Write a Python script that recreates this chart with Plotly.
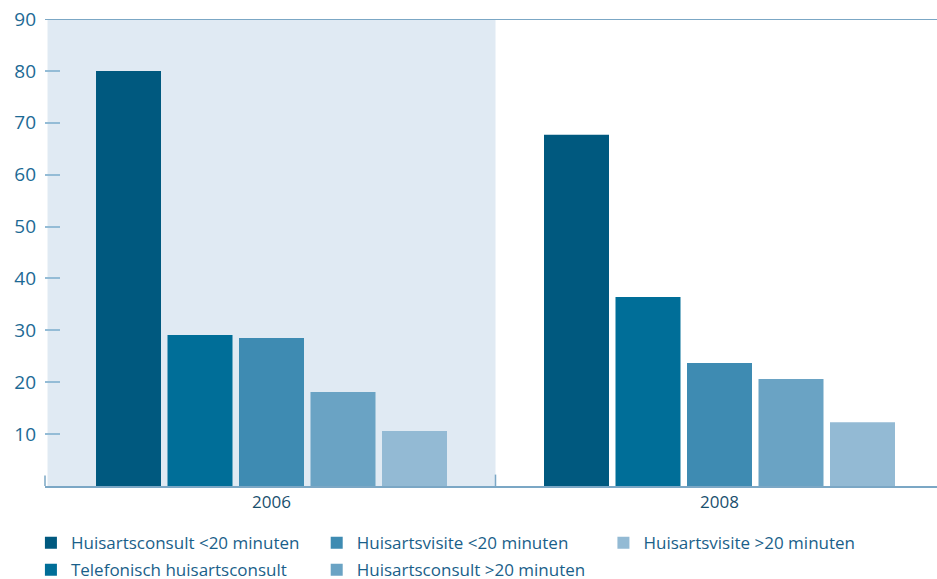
import plotly.graph_objects as go

categories = ["2006", "2008"]
series_names = [
    "Huisartsconsult <20 minuten",
    "Telefonisch huisartsconsult",
    "Huisartsvisite <20 minuten",
    "Huisartsconsult >20 minuten",
    "Huisartsvisite >20 minuten",
]
series_values = [
    [80.0, 67.7],
    [29.1, 36.4],
    [28.5, 23.7],
    [18.1, 20.6],
    [10.6, 12.3],
]
colors = ["#00597f", "#006e98", "#3e8bb2", "#6aa3c4", "#93bad4"]
legend_ids = ["legend", "legend", "legend2", "legend2", "legend3"]
y_ticks = [10, 20, 30, 40, 50, 60, 70, 80, 90]

text_color = "#1d6a95"
font_family = "Open Sans"

fig = go.Figure()
for i, (name, vals) in enumerate(zip(series_names, series_values)):
    fig.add_trace(go.Bar(
        x=categories, y=vals, name=name,
        marker=dict(color=colors[i], line=dict(width=0)),
        legend=legend_ids[i], legendgroup=f"g{i}",
    ))

# shaded band behind the 2006 group
fig.add_shape(type="rect", xref="x", yref="y", x0=-0.5, x1=0.5, y0=0, y1=90,
              fillcolor="#e0eaf3", line=dict(width=0), layer="below")
# top line
fig.add_shape(type="line", xref="paper", yref="y", x0=0, x1=1, y0=90, y1=90,
              line=dict(color="#7ba7c5", width=2))
# separator tick at boundary
fig.add_shape(type="line", xref="x", yref="y", x0=0.5, x1=0.5, y0=0, y1=2.2,
              line=dict(color="#7ba7c5", width=1.5))
fig.add_shape(type="line", xref="paper", yref="y", x0=0, x1=0, y0=0, y1=2,
              line=dict(color="#7ba7c5", width=1.5))

leg_common = dict(orientation="v", font=dict(family=font_family, size=17, color="#1a5f8a"),
                  bgcolor="rgba(0,0,0,0)", traceorder="grouped", tracegroupgap=2,
                  xref="container", yref="container",
                  yanchor="top", xanchor="left", itemclick=False)
fig.update_layout(
    width=937, height=579,
    margin=dict(l=45, r=0, t=19, b=93, autoexpand=False),
    paper_bgcolor="white", plot_bgcolor="rgba(0,0,0,0)",
    barmode="group", bargap=0.202, bargroupgap=0.091,
    font=dict(family=font_family, size=16, color=text_color),
    showlegend=True,
    legend=dict(x=0.033, y=0.093, **leg_common),
    legend2=dict(x=0.338, y=0.093, **leg_common),
    legend3=dict(x=0.644, y=0.093, **leg_common),
    xaxis=dict(type="category", range=[-0.5056, 1.4855], showline=True,
               linecolor="#7ba7c5", linewidth=2, ticks="", showgrid=False,
               automargin=False,
               tickfont=dict(family=font_family, size=17, color="#1a4f6e")),
    yaxis=dict(range=[0, 90], tickvals=y_ticks, ticks="inside", ticklen=15,
               tickwidth=2, tickcolor="#94bcd6", showgrid=False, zeroline=False,
               showline=False, automargin=False,
               tickfont=dict(family=font_family, size=19, color=text_color),
               ticklabelstandoff=8),
)

fig.write_html("out.html", config={"displayModeBar": False},
               post_script="document.body.style.margin='0';document.body.style.overflow='hidden';")
